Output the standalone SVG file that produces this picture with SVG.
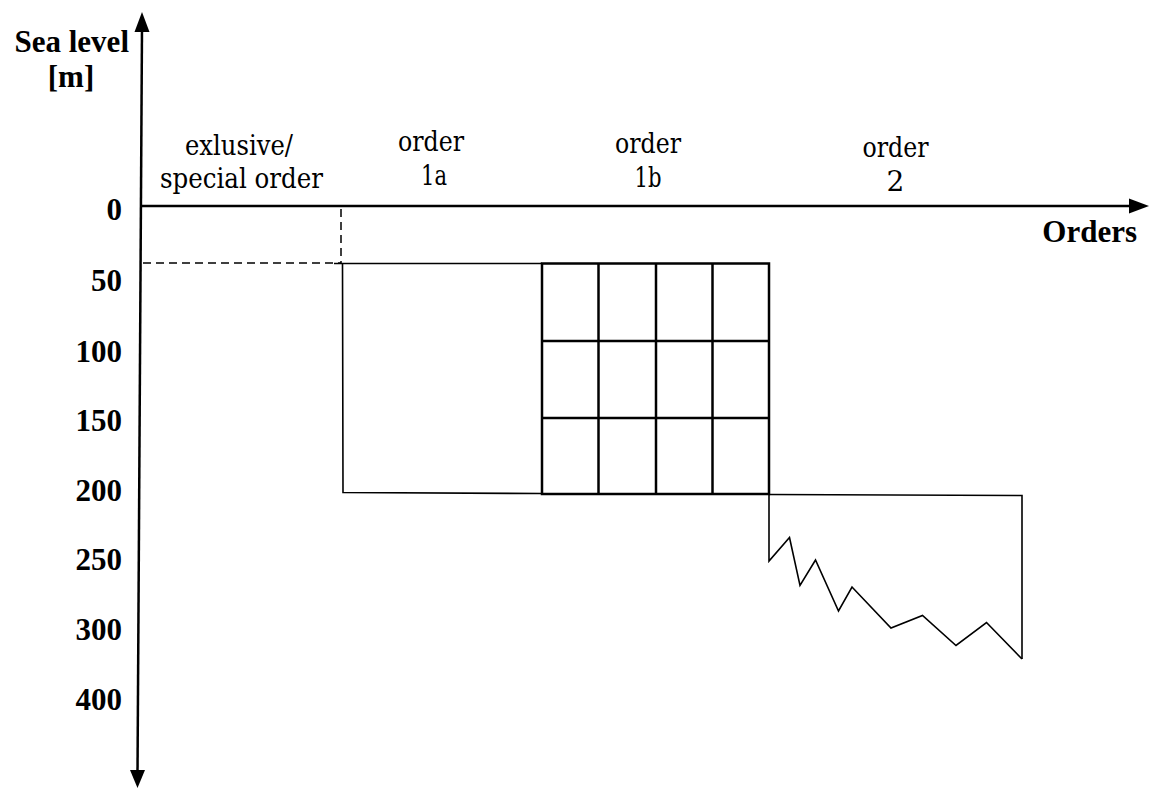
<svg xmlns="http://www.w3.org/2000/svg" width="1149" height="788" viewBox="0 0 1149 788">
<style>
.b{font-family:'Liberation Serif','Times New Roman','DejaVu Serif',serif;font-weight:700;font-size:31px;fill:#000}
.r{font-family:'DejaVu Serif','Liberation Serif',serif;font-size:28px;fill:#000}
.ax{stroke:#000;stroke-width:2.5;fill:none}
.thin{stroke:#000;stroke-width:1.6;fill:none}
.grid{stroke:#000;stroke-width:2.5;fill:none}
.dash{stroke:#000;stroke-width:1.5;stroke-dasharray:8 5;fill:none}
</style>
<rect width="1149" height="788" fill="#fff"/>
<g id="connectors">
<line class="ax" x1="142" y1="28" x2="137.5" y2="774"/>
<polygon points="142,12 134.5,32 149.5,32" fill="#000"/>
<polygon points="137.5,788 130,770 145,770" fill="#000"/>
<line class="ax" x1="142" y1="206" x2="1132" y2="206"/>
<polygon points="1149,206 1129,198.5 1129,213.5" fill="#000"/>
<line class="dash" x1="341" y1="209" x2="341" y2="263"/>
<line class="dash" x1="143" y1="263" x2="341" y2="263"/>
</g>
<g id="order1a">
<polyline class="thin" points="334,263.5 542,263.5"/>
<polyline class="thin" points="342.5,263.5 343,492.5 542,493.5"/>
</g>
<g id="order1b">
<rect class="grid" x="542" y="263.5" width="227" height="230.5"/>
<line class="grid" x1="598.5" y1="263.5" x2="598.5" y2="494"/>
<line class="grid" x1="656" y1="263.5" x2="656" y2="494"/>
<line class="grid" x1="712.5" y1="263.5" x2="712.5" y2="494"/>
<line class="grid" x1="542" y1="341" x2="769" y2="341"/>
<line class="grid" x1="542" y1="418" x2="769" y2="418"/>
</g>
<g id="order2">
<polyline class="thin" points="769,494.5 1022,495.5 1022,659"/>
<polyline class="thin" points="769,494 769,561 789.5,537.5 800,585.5 815.5,560 838.5,611 852,587 891,628 922.5,615.5 956,645.5 986.5,622.5 1022,659"/>
</g>
<g id="labels">
<text class="b" x="129" y="52" text-anchor="end">Sea level</text>
<text class="b" x="71" y="87" text-anchor="middle">[m]</text>
<text class="b" x="1137" y="242" text-anchor="end">Orders</text>
<text class="b" x="122" y="220" text-anchor="end">0</text>
<text class="b" x="122" y="291" text-anchor="end">50</text>
<text class="b" x="122" y="362" text-anchor="end">100</text>
<text class="b" x="122" y="431" text-anchor="end">150</text>
<text class="b" x="122" y="501" text-anchor="end">200</text>
<text class="b" x="122" y="570" text-anchor="end">250</text>
<text class="b" x="122" y="640" text-anchor="end">300</text>
<text class="b" x="122" y="710" text-anchor="end">400</text>
<text class="r" x="239" y="155" text-anchor="middle" textLength="108" lengthAdjust="spacingAndGlyphs">exlusive/</text>
<text class="r" x="241.5" y="188" text-anchor="middle" textLength="163" lengthAdjust="spacingAndGlyphs">special order</text>
<text class="r" x="431" y="151" text-anchor="middle" textLength="66" lengthAdjust="spacingAndGlyphs">order</text>
<text class="r" x="434" y="185" text-anchor="middle" textLength="26" lengthAdjust="spacingAndGlyphs">1a</text>
<text class="r" x="648" y="153" text-anchor="middle" textLength="66" lengthAdjust="spacingAndGlyphs">order</text>
<text class="r" x="648" y="187" text-anchor="middle" textLength="27" lengthAdjust="spacingAndGlyphs">1b</text>
<text class="r" x="895.5" y="157" text-anchor="middle" textLength="66" lengthAdjust="spacingAndGlyphs">order</text>
<text class="r" x="895.5" y="191" text-anchor="middle">2</text>
</g>
</svg>
